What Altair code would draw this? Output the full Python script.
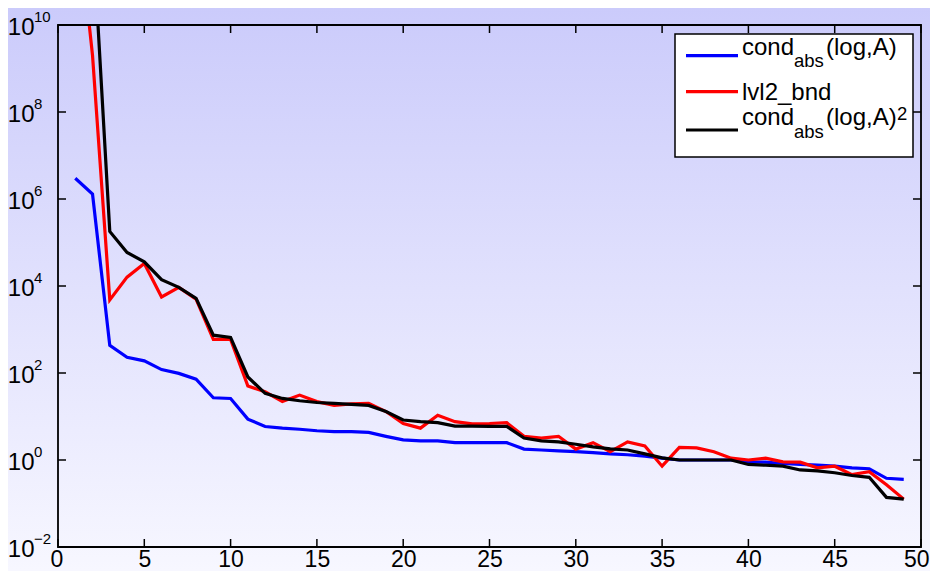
import altair as alt
import pandas as pd

# ---------------- data ----------------
idx = list(range(1, 50))

blue_vals = [3.0e6, 1.3e6, 4.3e2, 2.3e2, 1.9e2, 1.2e2, 98, 72, 27, 26,
             8.7, 5.9, 5.4, 5.1, 4.7, 4.5, 4.5, 4.3, 3.5, 2.9,
             2.75, 2.75, 2.5, 2.5, 2.5, 2.5, 1.78, 1.7, 1.62, 1.55,
             1.48, 1.38, 1.32, 1.23, 1.1, 1.0, 1.0, 1.0, 1.0, 0.91,
             0.89, 0.83, 0.79, 0.76, 0.72, 0.66, 0.63, 0.38, 0.36]

red_vals = [1.0e13, 2.0e9, 4.8e3, 1.6e4, 3.3e4, 5.6e3, 9.3e3, 5.0e3, 5.9e2, 5.9e2,
            50, 37, 22, 31, 22, 18, 19.5, 20, 13, 6.9,
            5.4, 10.7, 7.6, 6.8, 6.9, 7.2, 3.5, 3.2, 3.5, 1.78,
            2.5, 1.55, 2.6, 2.1, 0.72, 1.95, 1.9, 1.55, 1.1, 1.0,
            1.1, 0.91, 0.89, 0.66, 0.72, 0.46, 0.54, 0.27, 0.126]

black_vals = [9.0e12, 1.6e12, 1.8e5, 5.9e4, 3.6e4, 1.4e4, 9.3e3, 5.2e3, 7.4e2, 6.6e2,
              81, 34, 26, 23, 21, 20, 19, 18, 13, 8.3,
              7.6, 7.2, 6.0, 6.0, 5.9, 5.9, 3.2, 2.75, 2.6, 2.3,
              2.0, 1.8, 1.7, 1.38, 1.12, 1.0, 1.0, 1.0, 1.0, 0.79,
              0.76, 0.72, 0.59, 0.56, 0.51, 0.44, 0.40, 0.138, 0.126]

series_names = ["cond_abs(log,A)", "lvl2_bnd", "cond_abs(log,A)^2"]
series_colors = ["#0000ff", "#ff0000", "#000000"]

x_ticks = [0, 5, 10, 15, 20, 25, 30, 35, 40, 45, 50]
y_ticks = [1e-2, 1e0, 1e2, 1e4, 1e6, 1e8, 1e10]
y_exps = ["\u22122", "0", "2", "4", "6", "8", "10"]

# ---------------- layout ----------------
W, H = 863, 522
PAD = {"left": 50, "top": 17, "right": 9, "bottom": 24}
FONT = "Liberation Sans"
TICK = 8

rows = []
for name, vals in zip(series_names, [blue_vals, red_vals, black_vals]):
    for i, v in zip(idx, vals):
        rows.append({"i": i, "v": v, "series": name})
df = pd.DataFrame(rows)

xs = alt.Scale(domain=[0, 50], nice=False, zero=False)
ys = alt.Scale(type="log", domain=[1e-2, 1e10], nice=False)

x_axis = alt.Axis(values=x_ticks, labelFontSize=23, labelFont=FONT, labelColor="black",
                  labelPadding=1.5, tickSize=0, ticks=False, domain=False, grid=False,
                  labelFlush=True, labelFlushOffset=8, labelOverlap=False,
                  title=None, zindex=2)
y_axis = alt.Axis(values=y_ticks, labelExpr="'10'", labelFontSize=24, labelFont=FONT,
                  labelColor="black", labelPadding=24, tickSize=0, ticks=False,
                  domain=False, grid=False, labelOffset=2, labelFlush=False,
                  labelOverlap=False, title=None, zindex=2)

one = alt.Data(values=[{}])

# gradient background covering the whole figure
bg = alt.Chart(one).mark_rect(
    color=alt.LinearGradient(
        gradient="linear",
        stops=[alt.GradientStop(offset=0, color="#cbcbfb"),
               alt.GradientStop(offset=1, color="#f7f7ff")],
        x1=0, x2=0, y1=0, y2=1,
    )
).encode(
    x=alt.value(-PAD["left"]), x2=alt.value(W + PAD["right"]),
    y=alt.value(-PAD["top"]), y2=alt.value(H + PAD["bottom"]),
)

line_layers = []
for name, col in zip(series_names, series_colors):
    lyr = alt.Chart(df).transform_filter(
        alt.datum.series == name
    ).mark_line(strokeWidth=3.2, clip=True, color=col).encode(
        x=alt.X("i:Q", scale=xs, axis=x_axis),
        y=alt.Y("v:Q", scale=ys, axis=y_axis),
    )
    line_layers.append(lyr)

xt = pd.DataFrame({"i": x_ticks})
yt = pd.DataFrame({"v": y_ticks, "e": y_exps})

tick_bottom = alt.Chart(xt).mark_rule(color="black", strokeWidth=1.5).encode(
    x=alt.X("i:Q", scale=xs, axis=x_axis), y=alt.value(H), y2=alt.value(H - TICK))
tick_top = alt.Chart(xt).mark_rule(color="black", strokeWidth=1.5).encode(
    x=alt.X("i:Q", scale=xs, axis=x_axis), y=alt.value(0), y2=alt.value(TICK))
tick_left = alt.Chart(yt).mark_rule(color="black", strokeWidth=1.5).encode(
    y=alt.Y("v:Q", scale=ys, axis=y_axis), x=alt.value(0), x2=alt.value(TICK))
tick_right = alt.Chart(yt).mark_rule(color="black", strokeWidth=1.5).encode(
    y=alt.Y("v:Q", scale=ys, axis=y_axis), x=alt.value(W - TICK), x2=alt.value(W))

exps = alt.Chart(yt).mark_text(align="left", baseline="alphabetic", fontSize=15,
                               font=FONT, dy=-3, color="black").encode(
    x=alt.value(-24), y=alt.Y("v:Q", scale=ys, axis=y_axis), text="e:N")

frame = alt.Chart(one).mark_rect(fill="transparent", stroke="black", strokeWidth=1.8).encode(
    x=alt.value(0), x2=alt.value(W), y=alt.value(0), y2=alt.value(H))

# ---------------- legend ----------------
leg_box = alt.Chart(one).mark_rect(fill="white", stroke="black", strokeWidth=1.5).encode(
    x=alt.value(617), x2=alt.value(855), y=alt.value(9), y2=alt.value(132))

leg_line_y = [30.7, 66.7, 105]
leg_lines = [
    alt.Chart(one).mark_rule(color=c, strokeWidth=3.2).encode(
        x=alt.value(628), x2=alt.value(680), y=alt.value(yy))
    for c, yy in zip(series_colors, leg_line_y)
]


def txt(s, x, y, size=24):
    return alt.Chart(one).mark_text(align="left", baseline="alphabetic", fontSize=size,
                                    font=FONT, color="black").encode(
        x=alt.value(x), y=alt.value(y), text=alt.value(s))


leg_texts = [
    txt("cond", 684, 29.7), txt("abs", 736, 42.3, 18.5), txt("(log,A)", 768, 29.7),
    txt("lvl2_bnd", 684, 74.7),
    txt("cond", 684, 100.3), txt("abs", 736, 113, 18.5), txt("(log,A)", 768, 100.3),
    txt("2", 839, 94.7, 18.5),
]

chart = alt.layer(
    bg, *line_layers, tick_bottom, tick_top, tick_left, tick_right, exps, frame,
    leg_box, *leg_lines, *leg_texts,
).properties(
    width=W, height=H,
    autosize=alt.AutoSizeParams(type="none"),
    padding=PAD,
    background="white",
).configure_view(stroke="transparent")

chart.save("out.html", embed_options={"renderer": "svg", "actions": False})
